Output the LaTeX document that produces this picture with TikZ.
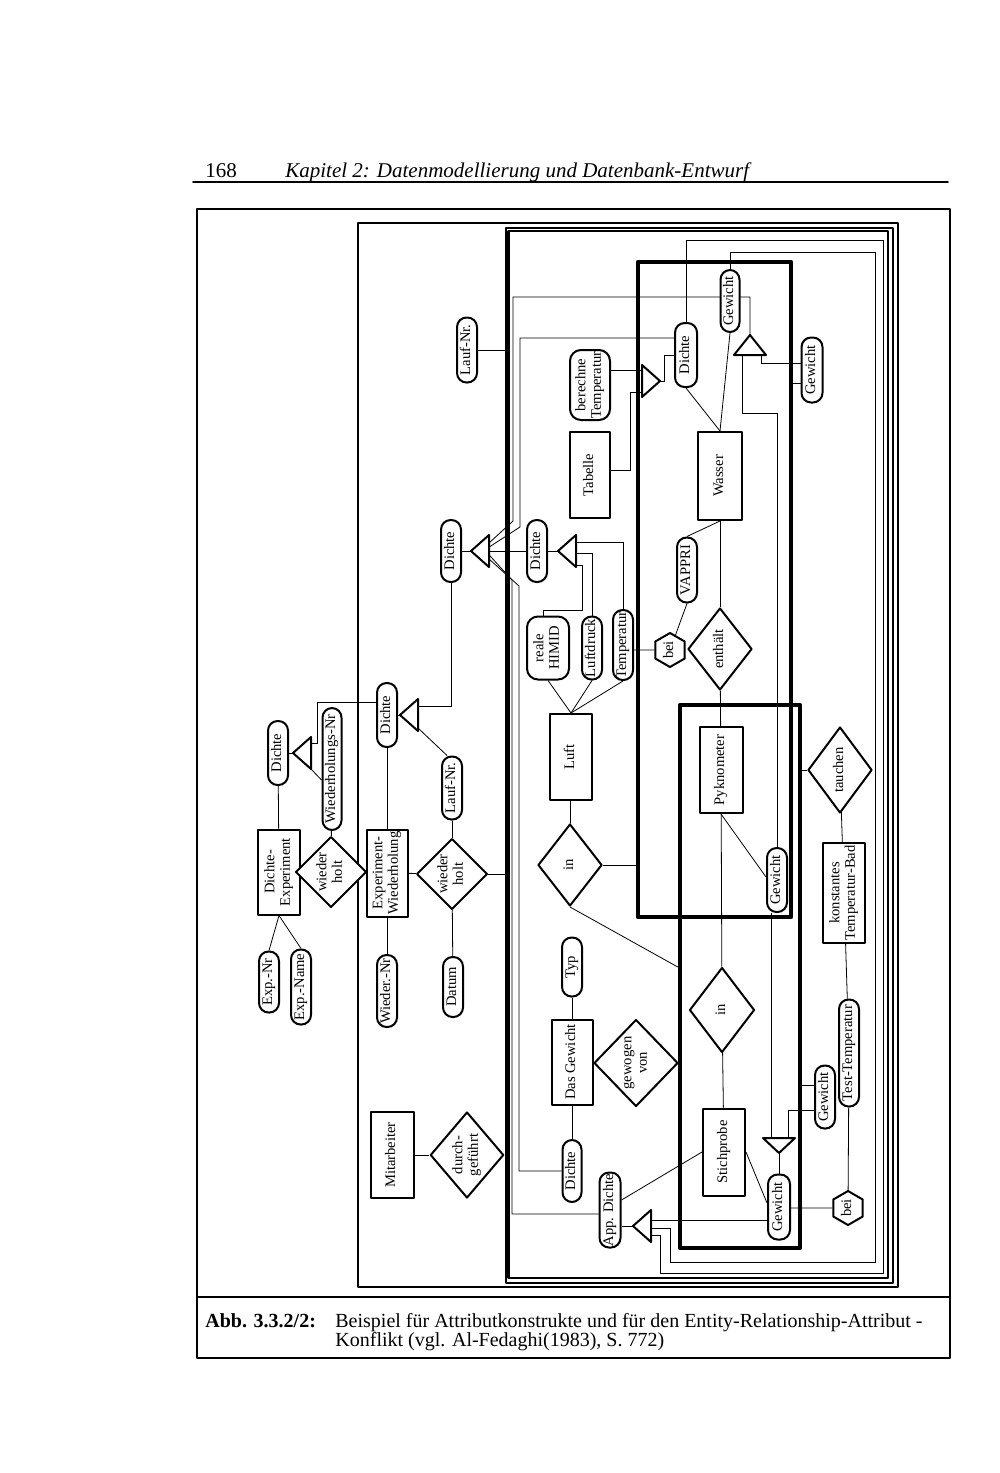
\documentclass[tikz,border=0pt]{standalone}
\usepackage{fontspec}
\setmainfont{Liberation Serif}
\usepackage{graphicx}
\usetikzlibrary{shapes.geometric,calc,backgrounds}
\newcommand{\vt}[1]{\rotatebox{90}{\begin{tabular}{@{}c@{}}#1\end{tabular}}}

\begin{document}
\begin{tikzpicture}[line cap=round, line join=round, x=0.5pt, y=-0.5pt,
  sz/.style 2 args={minimum width=#1*0.5pt, minimum height=#2*0.5pt},
  er/.style={draw, fill=white, line width=1pt, inner sep=0pt, font=\fontsize{7.3}{7.8}\selectfont},
  attr/.style={er, rectangle, rounded corners=4.8pt},
  attrb/.style={er, rectangle, rounded corners=5.5pt},
  ent/.style={er, rectangle},
  rel/.style={er, diamond},
  hexa/.style={er, regular polygon, regular polygon sides=6, shape border rotate=90, minimum size=17pt},
  clbox/.style={draw, line width=2.2pt, inner sep=0pt},
  bundle/.style={draw, line width=1.1pt, inner sep=0pt},
  thinbox/.style={draw, line width=0.8pt, inner sep=0pt},
  conn/.style={line width=0.9pt},
  txt/.style={anchor=base west, inner sep=0pt},
  aggL/.pic={\draw[fill=white, line width=1pt] (0,0) coordinate (-a) -- (18,-16) coordinate (-t) -- (18,16) coordinate (-b) -- cycle;},
  aggR/.pic={\draw[fill=white, line width=1pt] (0,0) coordinate (-a) -- (-18,-16) coordinate (-t) -- (-18,16) coordinate (-b) -- cycle;},
  aggU/.pic={\draw[fill=white, line width=1pt] (0,0) coordinate (-a) -- (-16,20) coordinate (-l) -- (16,20) coordinate (-r) -- cycle;},
  aggD/.pic={\draw[fill=white, line width=1pt] (0,0) coordinate (-a) -- (-16,-15) coordinate (-l) -- (16,-15) coordinate (-r) -- cycle;}]
\useasboundingbox (0,0) rectangle (1000,1473);

\node[txt, font=\fontsize{10.5}{12}\selectfont] (pnum) at (205,177) {168};
\node[txt, font=\fontsize{10.5}{12}\selectfont\itshape] (ptitle) at (285,177) {Kapitel 2: Datenmodellierung und Datenbank-Entwurf};
\draw[line width=0.9pt] (193,182) -- (948,182);
\draw[line width=1pt] (197,209) rectangle (950,1358);
\draw[line width=1pt] (197,1297) -- (950,1297);
\node[txt, font=\fontsize{10}{12}\selectfont\bfseries] (abb) at (205,1327) {Abb. 3.3.2/2:};
\node[txt, font=\fontsize{10}{12}\selectfont] (capa) at (335,1327) {Beispiel für Attributkonstrukte und für den Entity-Relationship-Attribut -};
\node[txt, font=\fontsize{10}{12}\selectfont] (capb) at (335,1346) {Konflikt (vgl. Al-Fedaghi(1983), S. 772)};

\node[thinbox, sz={540}{1064}] (outerbox) at (628,755) {};
\node[bundle, sz={387}{1055}] (boxA) at (699.5,755.5) {};
\node[bundle, sz={379.5}{1047}] (boxB) at (698.25,754.5) {};
\node[clbox, sz={153}{655}] (boxW) at (714.5,589.5) {};
\node[clbox, sz={120}{543}] (boxP) at (740,976.5) {};

\node[attr, sz={20}{64}] (dedichte) at (278,753) {\vt{Dichte}};
\node[attr, sz={19}{122}] (wnr) at (332,769) {\vt{Wiederholungs-Nr}};
\node[attr, sz={20}{61}] (expnr) at (269,982) {\vt{Exp.-Nr}};
\node[attr, sz={20}{75}] (expname) at (301,987) {\vt{Exp.-Name}};
\node[ent, sz={42}{85}] (dexp) at (279,872) {\vt{Dichte-\\Experiment}};
\node[rel, sz={45}{61}] (wha) at (331,872) {\vt{wieder\\holt}};
\node[ent, sz={41}{87}] (ew) at (387,873) {\vt{Experiment-\\Wiederholung}};
\node[attr, sz={20}{64}] (ewdichte) at (387,715) {\vt{Dichte}};
\node[attr, sz={20}{63}] (laufnrb) at (452,788) {\vt{Lauf-Nr.}};
\node[rel, sz={63}{62}] (whb) at (452,874) {\vt{wieder\\holt}};
\node[attr, sz={20}{72}] (wiedernr) at (387,991) {\vt{Wieder.-Nr}};
\node[attr, sz={20}{60}] (datum) at (453,987) {\vt{Datum}};
\node[attr, sz={20}{62}] (bigdichte) at (451,551) {\vt{Dichte}};
\node[attr, sz={20}{65}] (laufnra) at (467,350) {\vt{Lauf-Nr.}};
\node[ent, sz={43}{86}] (mitarb) at (392,1155) {\vt{Mitarbeiter}};
\node[rel, sz={63}{86}] (durch) at (467,1155) {\vt{durch-\\geführt}};

\node[attr, sz={20}{62}] (luftdichte) at (537,551) {\vt{Dichte}};
\node[attrb, sz={42}{63}] (himid) at (548,648) {\vt{reale\\HIMID}};
\node[attr, sz={20}{63}] (luftdruck) at (592,648) {\vt{Luftdruck}};
\node[attr, sz={20}{70}] (temp) at (623,645) {\vt{Temperatur}};
\node[ent, sz={42}{86}] (luft) at (571,757) {\vt{Luft}};
\node[rel, sz={64}{82}] (ina) at (570,865) {\vt{in}};
\node[ent, sz={40}{86}] (tabelle) at (590,475) {\vt{Tabelle}};
\node[attrb, sz={40}{70}] (bertemp) at (590,385) {\vt{berechne\\Temperatur}};
\node[attr, sz={22}{64}] (wdichte) at (686,355) {\vt{Dichte}};
\node[attr, sz={19}{62}] (wgewa) at (730,301) {\vt{Gewicht}};
\node[attr, sz={21}{65}] (wgewb) at (812,370) {\vt{Gewicht}};
\node[ent, sz={44}{88}] (wasser) at (720,476) {\vt{Wasser}};
\node[attr, sz={20}{65}] (vappri) at (687,570) {\vt{VAPPRI}};
\node[hexa] (beia) at (670,650) {\vt{bei}};
\node[rel, sz={64}{82}] (enth) at (720,649) {\vt{enthält}};
\node[ent, sz={43}{86}] (pykno) at (721,770) {\vt{Pyknometer}};
\node[attr, sz={20}{64}] (pgew) at (777,880) {\vt{Gewicht}};
\node[rel, sz={64}{86}] (tauchen) at (840,770) {\vt{tauchen}};
\node[ent, sz={42}{100}] (bad) at (844,893) {\vt{konstantes\\Temperatur-Bad}};
\node[attr, sz={20}{107}] (testtemp) at (849,1053) {\vt{Test-Temperatur}};
\node[rel, sz={65}{85}] (inb) at (722,1010) {\vt{in}};
\node[ent, sz={42}{87}] (stich) at (724,1152) {\vt{Stichprobe}};
\node[attr, sz={22}{65}] (sgew) at (779,1207) {\vt{Gewicht}};
\node[attr, sz={20}{63}] (rgew) at (825,1097) {\vt{Gewicht}};
\node[hexa] (beib) at (848,1208) {\vt{bei}};
\node[attr, sz={21}{75}] (appd) at (610,1210) {\vt{App. Dichte}};
\node[ent, sz={41}{85}] (dgew) at (572,1062) {\vt{Das Gewicht}};
\node[attr, sz={20}{59}] (typ) at (572,967) {\vt{Typ}};
\node[attr, sz={19}{62}] (dgdichte) at (572,1171) {\vt{Dichte}};
\node[rel, sz={62}{87}] (gewogen) at (636,1063) {\vt{gewogen\\von}};

\pic (tDE) at (293,753) {aggL};
\pic (tEW) at (400,715) {aggL};
\pic (tBig) at (471,551) {aggL};
\pic (tLuft) at (558,551) {aggL};
\pic (tDW) at (660,381) {aggR};
\pic (tGW) at (750,335) {aggU};
\pic (tS) at (779,1153) {aggD};
\pic (tApp) at (633,1226) {aggL};

\begin{scope}[on background layer, conn]
\fill[white] (0,0) rectangle (1000,1473);
\draw (dexp) -- (dedichte);
\draw (dedichte.east) -- (tDE-a);
\draw ($(tDE-t)+(0,6)$) -| (317,702) -- (ewdichte.west |- 317,702);
\draw (tDE-b) -- (wnr.west |- 0,780);
\draw (wnr) -- (wha);
\draw (dexp) -- (wha);
\draw (wha) -- (ew);
\draw (dexp.south) -- (expnr.north);
\draw (dexp.south) -- (expname.north);
\draw (ew) -- (ewdichte);
\draw (ewdichte.east) -- (tEW-a);
\draw ($(tEW-t)+(0,7)$) -| (bigdichte.south);
\draw ($(tEW-b)+(0,-3)$) -- ($(laufnrb.north)+(-5,0)$);
\draw (laufnrb) -- (whb);
\draw (ew) -- (whb);
\draw (whb.east) -- (whb.east -| boxA.west);
\draw (whb) -- (datum);
\draw (ew) -- (wiedernr);
\draw (bigdichte.east) -- (tBig-a);
\draw (laufnra.east) -- (laufnra.east -| boxA.west);
\draw (mitarb) -- (durch);
\draw (durch.east) -- (durch.east -| boxA.west);
\draw (tGW-a) |- (513,297) -- (513,521) -- ($(tBig-t)!.25!(tBig-b)$);
\draw ($(wdichte.west)+(0,-17)$) -- (520,338) -- (520,527) -- ($(tBig-t)!.38!(tBig-b)$);
\draw (luftdichte.west) -- ($(tBig-t)!.5!(tBig-b)$);
\draw ($(appd.west)+(0,4)$) -| (512,580) -- ($(tBig-t)!.62!(tBig-b)$);
\draw (dgdichte.west) -| (519,586) -- ($(tBig-t)!.75!(tBig-b)$);
\draw (luftdichte.east) -- (tLuft-a);
\draw ($(tLuft-t)+(0,7)$) -| (temp.north);
\draw ($(tLuft-t)+(0,18)$) -| (luftdruck.north);
\draw ($(tLuft-b)+(0,-2)$) -| (582,610) -| ($(himid.north)+(-5,0)$);
\draw (luft.north) -- (himid.south);
\draw (luft.north) -- (luftdruck.south);
\draw (luft.north) -- (temp.south);
\draw (luft) -- (ina);
\draw (ina.east) -- (ina.east -| boxW.west);
\draw (ina.south) -- (boxP.west |- 0,967);
\draw ($(bertemp.east)+(0,-15)$) -- ($(tDW-t)+(0,5)$);
\draw ($(tabelle.east)+(0,-5)$) -| (630,392) -- ($(tDW-b)+(0,-5)$);
\draw (tDW-a) -| (664,355) -- (wdichte.west);
\draw (wasser.north) -- (wdichte.south);
\draw (wasser.north) -- (wgewa.south);
\draw (wasser) -- (enth);
\draw (enth) -- (pykno);
\draw (wasser.south) -- (vappri.north);
\draw (vappri.south) -- (beia);
\draw (temp.east |- beia) -- (beia);
\draw (wdichte.north) |- (883,240) |- (660,1273) |- ($(tApp-b)+(0,-7)$);
\draw (wgewa.north) |- (875,252) |- (670,1262) |- ($(tApp-b)+(0,-14)$);
\draw ($(wgewb.west)+(0,-7)$) -| ($(tGW-r)+(-5,0)$);
\draw ($(wgewb.west)+(0,13)$) -- (boxW.east |- 0,383);
\draw (pgew.north) |- (742,413) -- ($(tGW-l)+(8,0)$);
\draw (pykno.south) -- ($(pgew.west)+(0,-3)$);
\draw (pykno) -- (inb);
\draw (inb) -- (stich);
\draw (tauchen.west) -- (tauchen.west -| boxP.east);
\draw (tauchen) -- (bad);
\draw (bad) -- (testtemp);
\draw (testtemp) -- (beib);
\draw (beib) -- (beib -| sgew.east);
\draw ($(pgew.south)+(-6,0)$) -- ($(tS-l)+(8,0)$);
\draw ($(tS-r)+(-7,0)$) |- ($(rgew.west)+(0,13)$);
\draw ($(rgew.west)+(0,-12)$) -- (boxP.east |- 0,1085);
\draw (sgew.north) -- (tS-a);
\draw (stich.east) -- ($(sgew.west)+(0,-4)$);
\draw (stich.west) -- ($(appd.east)+(0,-10)$);
\draw (appd.east |- tApp-a) -- (tApp-a);
\draw ($(tApp-t)+(0,10)$) -- (sgew.west |- 0,1220);
\draw (typ) -- (dgew);
\draw (dgew) -- (dgdichte);
\draw (dgew) -- (gewogen);
\draw (gewogen.east) -- (gewogen.east -| boxP.west);
\end{scope}
\end{tikzpicture}
\end{document}
